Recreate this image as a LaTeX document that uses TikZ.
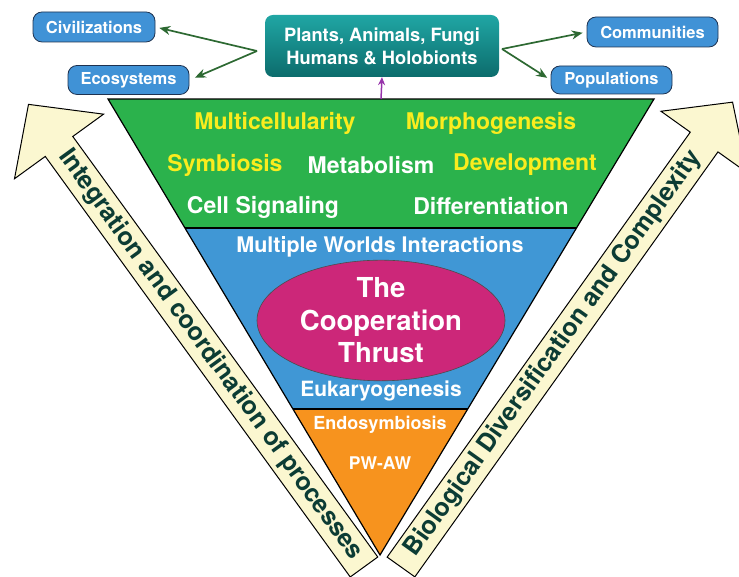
\documentclass[tikz,border=0pt]{standalone}
\usepackage{fontspec}
\setmainfont{TeX Gyre Heros}
\usetikzlibrary{arrows.meta,shapes.geometric}
\definecolor{lvgreen}{RGB}{43,178,76}
\definecolor{lvblue}{RGB}{64,151,213}
\definecolor{lvorange}{RGB}{247,147,30}
\definecolor{thrustcol}{RGB}{204,39,121}
\definecolor{yeltext}{RGB}{250,236,30}
\definecolor{boxblue}{RGB}{64,146,214}
\definecolor{boxline}{RGB}{30,50,80}
\definecolor{arrgreen}{RGB}{45,105,50}
\definecolor{arrpurple}{RGB}{150,50,170}
\definecolor{cream}{RGB}{251,247,208}
\definecolor{darktext}{RGB}{12,60,52}
\definecolor{tealtop}{RGB}{32,166,164}
\definecolor{tealbot}{RGB}{12,108,108}

\tikzset{
  smallbox/.style={draw=boxline, fill=boxblue, rounded corners=9pt, line width=0.8pt,
    text=white, font=\bfseries\fontsize{16.5}{19}\selectfont},
  levelarrow/.style={-{Stealth[length=11pt,width=9pt]}, draw=arrgreen, line width=1.7pt, shorten >=4pt},
  bigarrow/.style={draw=black, fill=cream, line width=1pt, line join=miter},
  arrowtext/.style={text=darktext, font=\bfseries\fontsize{25}{28}\selectfont},
  lvltext/.style={font=\bfseries\fontsize{23}{26}\selectfont, text=white},
}

\begin{document}
\begin{tikzpicture}[x=1pt,y=1pt]
  \useasboundingbox (0,0) rectangle (739,577);
  \clip (0,0) rectangle (739,577);

  % the three levels
  \coordinate (tl) at (108,478);
  \coordinate (tr) at (654,478);
  \coordinate (apex) at (380,22);
  \coordinate (topmid) at (381,478);
  \begin{scope}
    \clip (tl) -- (tr) -- (apex) -- cycle;
    \fill[lvgreen] (0,349) rectangle (739,478);
    \fill[lvblue] (0,168) rectangle (739,349);
    \fill[lvorange] (0,0) rectangle (739,168);
    \draw[line width=1.2pt] (0,349) -- (739,349) (0,168) -- (739,168);
  \end{scope}
  \draw[line width=1.2pt, line join=miter] (tl) -- (tr) -- (apex) -- cycle;

  \node[lvltext, text=yeltext] (multi) at (275,454) {Multicellularity};
  \node[lvltext, text=yeltext] (morpho) at (491,454) {Morphogenesis};
  \node[lvltext, text=yeltext] (symb) at (225,412) {Symbiosis};
  \node[lvltext] (metab) at (371,412) {Metabolism};
  \node[lvltext, text=yeltext] (devel) at (525,412) {Development};
  \node[lvltext] (signal) at (263,370) {Cell Signaling};
  \node[lvltext] (diff) at (491,371) {Differentiation};
  \node[lvltext, font=\bfseries\fontsize{21.5}{24}\selectfont] (worlds) at (380,330) {Multiple Worlds Interactions};
  \node[ellipse, draw=black!70, line width=0.6pt, fill=thrustcol, minimum width=248pt, minimum height=111pt,
    inner sep=0pt, align=center, lvltext, font=\bfseries\fontsize{27.5}{32.5}\selectfont] (thrust) at (381,256.5)
    {The\\Cooperation\\Thrust};
  \node[lvltext, font=\bfseries\fontsize{21}{24}\selectfont] (eukaryo) at (381,186) {Eukaryogenesis};
  \node[lvltext, font=\bfseries\fontsize{18}{20}\selectfont] (endo) at (380,152) {Endosymbiosis};
  \node[lvltext, font=\bfseries\fontsize{17.5}{20}\selectfont] (pwaw) at (380,114) {PW-AW};

  % organisms and higher levels
  \node[rounded corners=8pt, top color=tealtop, bottom color=tealbot, minimum width=234pt, minimum height=62pt,
    align=center, text=white, font=\bfseries\fontsize{18.3}{23}\selectfont] (plants) at (382,531)
    {Plants, Animals, Fungi\\Humans \& Holobionts};
  \node[smallbox, minimum width=122pt, minimum height=30pt] (civ) at (94,550) {Civilizations};
  \node[smallbox, minimum width=121pt, minimum height=29pt] (eco) at (128.5,497) {Ecosystems};
  \node[smallbox, minimum width=131pt, minimum height=30pt] (comm) at (652.5,545) {Communities};
  \node[smallbox, minimum width=121pt, minimum height=28pt] (pop) at (611.5,497) {Populations};

  \coordinate (jl) at (257,526);
  \coordinate (jr) at (502,528);
  \draw[levelarrow] (jl) -- (civ.east);
  \draw[levelarrow, shorten >=6pt] (jl) -- (eco.east);
  \draw[levelarrow] (jr) -- (comm.west);
  \draw[levelarrow] (jr) -- (pop.west);
  \draw[-{Stealth[length=8pt,width=7pt]}, arrpurple, line width=1.5pt] (topmid) -- (plants.south);

  % side arrows
  \begin{scope}[shift={(364,10)}, rotate=125.95]
    \draw[bigarrow] (0,-17) -- (519.5,-17) -- (519.5,-55) -- (571.5,0) -- (519.5,55) -- (519.5,17) -- (0,17) -- cycle;
    \node[arrowtext, rotate=-54.05] (integ) at (262,0) {Integration and coordination of processes};
  \end{scope}
  \begin{scope}[shift={(401,10)}, rotate=54.5]
    \draw[bigarrow] (0,-17) -- (522,-17) -- (522,-53) -- (571,0) -- (522,53) -- (522,17) -- (0,17) -- cycle;
    \node[arrowtext, rotate=54.5] (divers) at (262,0) {Biological Diversification and Complexity};
  \end{scope}
\end{tikzpicture}
\end{document}
